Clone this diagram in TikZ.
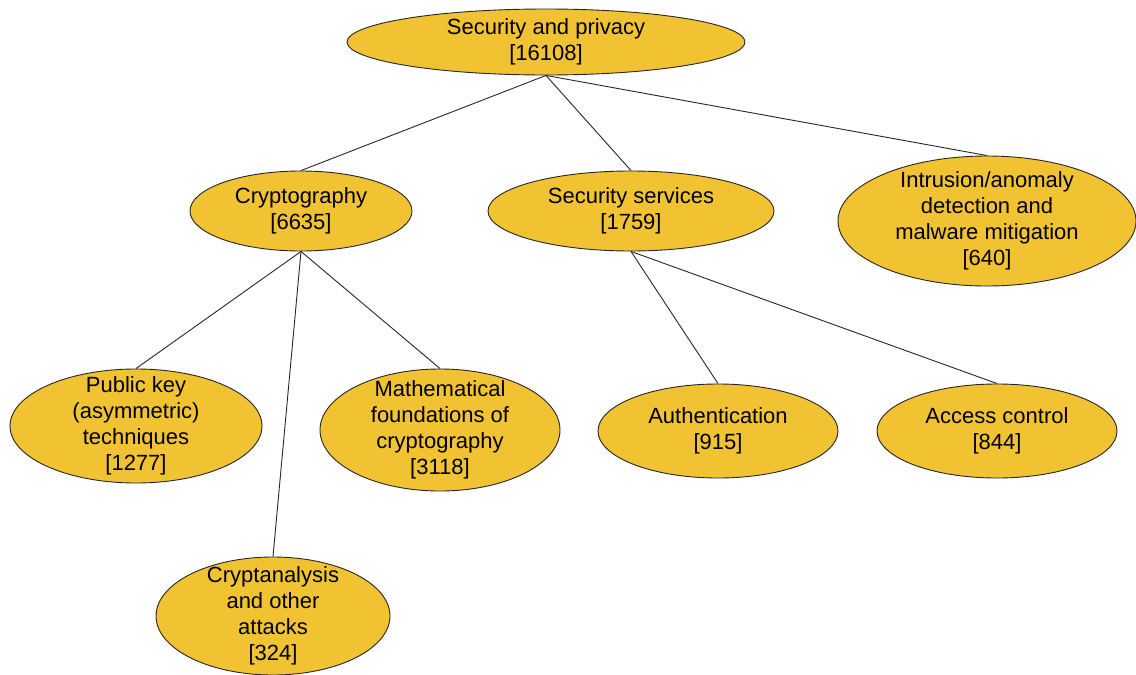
\documentclass[tikz,border=0pt]{standalone}
\usepackage{fontspec}
\setmainfont{Liberation Sans}
\usetikzlibrary{shapes.geometric}
\definecolor{gold}{HTML}{F1C232}
\begin{document}
\begin{tikzpicture}[x=1pt,y=-1pt,
  % negative inner sep keeps the ellipse at its minimum size
  topic/.style={ellipse,draw=black!85,line width=0.9pt,fill=gold,inner sep=-30pt,
    align=center,font=\fontsize{22}{26}\selectfont},
  link/.style={draw=black!85,line width=0.9pt}]
\useasboundingbox (0,0) rectangle (1136,675);
\node[topic,minimum width=398pt,minimum height=66pt] (root) at (546,42) {Security and privacy\\{[16108]}};
\node[topic,minimum width=222pt,minimum height=80pt] (crypto) at (301,211) {Cryptography\\{[6635]}};
\node[topic,minimum width=286pt,minimum height=80pt] (serv) at (631,211) {Security services\\{[1759]}};
\node[topic,minimum width=298pt,minimum height=130pt] (intr) at (987,221) {Intrusion/anomaly\\detection and\\malware mitigation\\{[640]}};
\node[topic,minimum width=252pt,minimum height=114pt] (pk) at (136,426) {Public key\\(asymmetric)\\techniques\\{[1277]}};
\node[topic,minimum width=240pt,minimum height=122pt] (math) at (440,430) {Mathematical\\foundations of\\cryptography\\{[3118]}};
\node[topic,minimum width=234pt,minimum height=118pt] (ca) at (273,616) {Cryptanalysis\\and other\\attacks\\{[324]}};
\node[topic,minimum width=240pt,minimum height=94pt] (auth) at (718,431) {Authentication\\{[915]}};
\node[topic,minimum width=240pt,minimum height=94pt] (acc) at (997,431) {Access control\\{[844]}};
\draw[link] (root.south) -- (crypto.north);
\draw[link] (root.south) -- (serv.north);
\draw[link] (root.south) -- (intr.north);
\draw[link] (crypto.south) -- (pk.north);
\draw[link] (crypto.south) -- (math.north);
\draw[link] (crypto.south) -- (ca.north);
\draw[link] (serv.south) -- (auth.north);
\draw[link] (serv.south) -- (acc.north);
\end{tikzpicture}
\end{document}
